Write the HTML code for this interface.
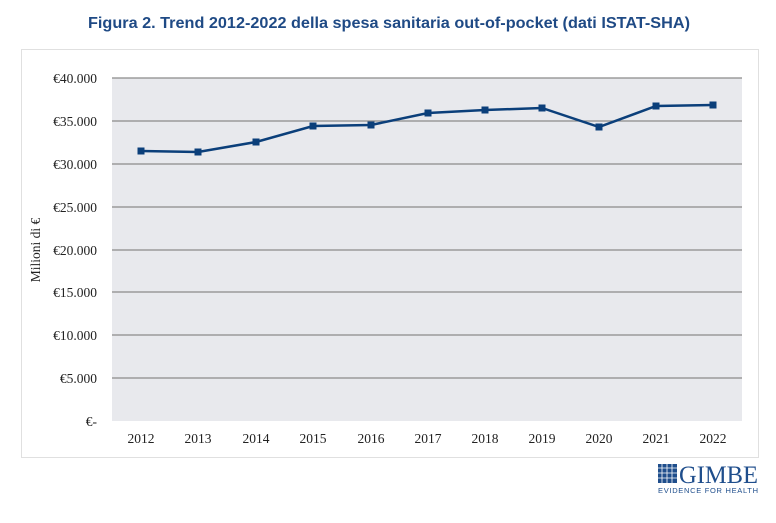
<!DOCTYPE html><html><head><style>body{margin:0;background:#fff;width:776px;height:518px;overflow:hidden}</style></head><body>
<svg width="776" height="518" xmlns="http://www.w3.org/2000/svg" font-family="Liberation Serif, serif">
<text x="389" y="28" text-anchor="middle" font-family="Liberation Sans, sans-serif" font-weight="bold" font-size="16" fill="#1f4a85" textLength="602" lengthAdjust="spacingAndGlyphs">Figura 2. Trend 2012-2022 della spesa sanitaria out-of-pocket (dati ISTAT-SHA)</text>
<rect x="21.5" y="49.5" width="737" height="408" fill="#fff" stroke="#e0e0e0"/>
<rect x="112" y="78" width="630" height="343" fill="#e8e9ed"/>
<g stroke="#8a8a8a" stroke-width="1.3">
<line x1="112" x2="742" y1="78" y2="78"/><line x1="112" x2="742" y1="121" y2="121"/><line x1="112" x2="742" y1="164" y2="164"/><line x1="112" x2="742" y1="207" y2="207"/><line x1="112" x2="742" y1="250" y2="250"/><line x1="112" x2="742" y1="292" y2="292"/><line x1="112" x2="742" y1="335" y2="335"/><line x1="112" x2="742" y1="378" y2="378"/>
</g>
<g font-size="13.5" fill="#222" text-anchor="end">
<text x="97" y="83">€40.000</text><text x="97" y="126">€35.000</text><text x="97" y="169">€30.000</text><text x="97" y="212">€25.000</text><text x="97" y="255">€20.000</text><text x="97" y="297">€15.000</text><text x="97" y="340">€10.000</text><text x="97" y="383">€5.000</text><text x="97" y="426">€-</text>
</g>
<g font-size="13.5" fill="#222" text-anchor="middle">
<text x="141" y="443">2012</text><text x="198" y="443">2013</text><text x="256" y="443">2014</text><text x="313" y="443">2015</text><text x="371" y="443">2016</text><text x="428" y="443">2017</text><text x="485" y="443">2018</text><text x="542" y="443">2019</text><text x="599" y="443">2020</text><text x="656" y="443">2021</text><text x="713" y="443">2022</text>
</g>
<text transform="translate(40,250) rotate(-90)" text-anchor="middle" font-size="13.5" fill="#222">Milioni di €</text>
<polyline fill="none" stroke="#0b3f7a" stroke-width="2.5" points="141,151 198,152 256,142 313,126 371,125 428,113 485,110 542,108 599,127 656,106 713,105"/>
<g fill="#0b3f7a">
<rect x="137.5" y="147.5" width="7" height="7"/><rect x="194.5" y="148.5" width="7" height="7"/><rect x="252.5" y="138.5" width="7" height="7"/><rect x="309.5" y="122.5" width="7" height="7"/><rect x="367.5" y="121.5" width="7" height="7"/><rect x="424.5" y="109.5" width="7" height="7"/><rect x="481.5" y="106.5" width="7" height="7"/><rect x="538.5" y="104.5" width="7" height="7"/><rect x="595.5" y="123.5" width="7" height="7"/><rect x="652.5" y="102.5" width="7" height="7"/><rect x="709.5" y="101.5" width="7" height="7"/>
</g>
<rect x="658" y="464" width="19" height="19" fill="#1f4e8c"/>
<g stroke="#fff" stroke-width="0.8"><line x1="662" x2="662" y1="464" y2="483"/><line x1="667" x2="667" y1="464" y2="483"/><line x1="672" x2="672" y1="464" y2="483"/><line y1="468" y2="468" x1="658" x2="677"/><line y1="473" y2="473" x1="658" x2="677"/><line y1="478" y2="478" x1="658" x2="677"/></g>
<text x="679" y="483" font-size="25" fill="#1f4e8c" textLength="79" lengthAdjust="spacingAndGlyphs">GIMBE</text>
<text x="658" y="493" font-family="Liberation Sans, sans-serif" font-size="7.5" fill="#1f4e8c" textLength="100" lengthAdjust="spacing">EVIDENCE FOR HEALTH</text>
</svg></body></html>
